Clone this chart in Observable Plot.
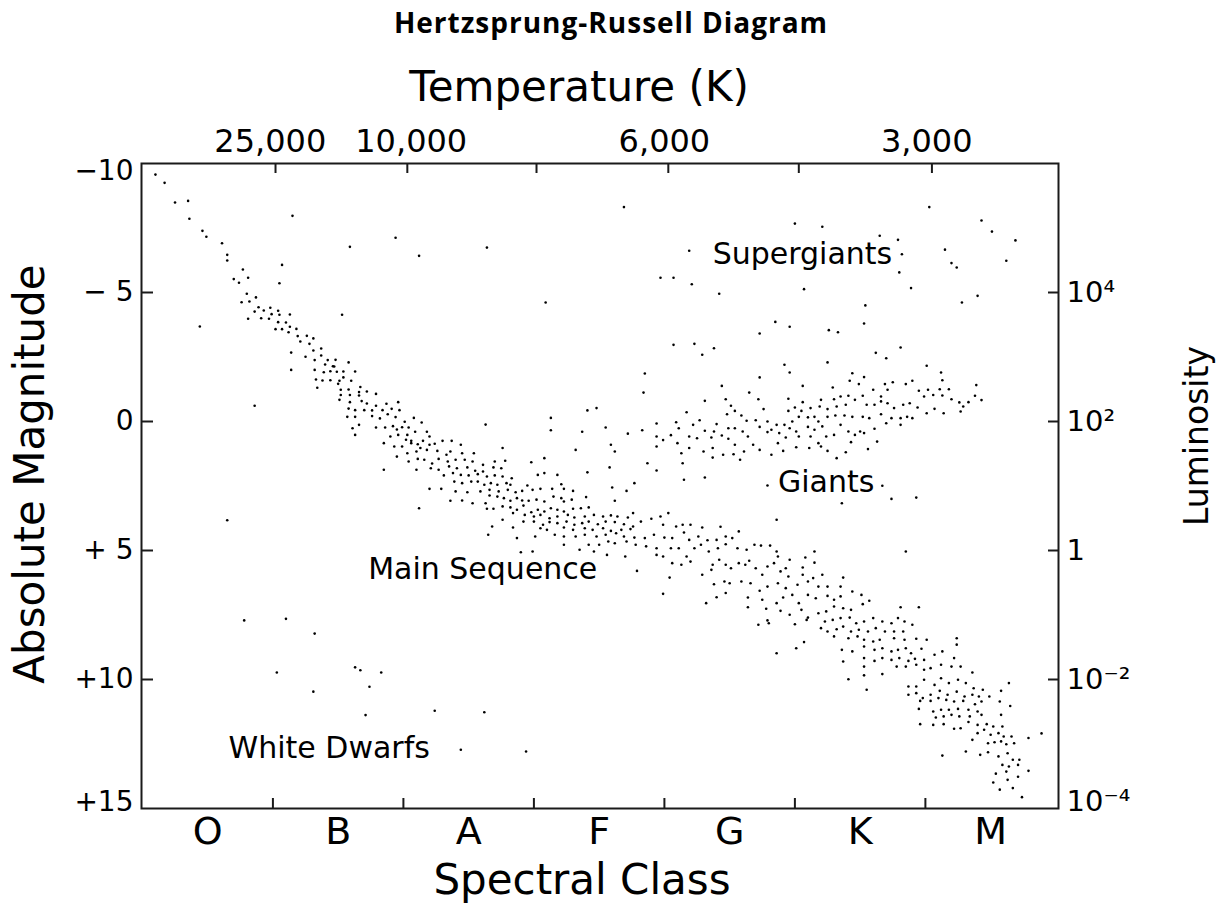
<!DOCTYPE html>
<html><head><meta charset="utf-8">
<script src="https://cdn.jsdelivr.net/npm/d3@7"></script>
<script src="https://cdn.jsdelivr.net/npm/@observablehq/plot@0.6"></script>
<style>
body{margin:0;background:#fff;}
#title{height:50px;line-height:44px;text-align:center;font-family:"Open Sans",sans-serif;font-weight:700;font-size:28px;letter-spacing:1px;color:#000;}
#chart svg{display:block;}
</style></head><body>
<div id="title">Hertzsprung-Russell Diagram</div>
<div id="chart"></div>
<script>
// Spectral class position: O=0, B=1, A=2, F=3, G=4, K=5, M=6 (fractions = subclasses)
const spectralClasses = ["O","B","A","F","G","K","M"];
const classBoundaries = [0.5,1.5,2.5,3.5,4.5,5.5];
const magnitudeTicks = [-10,-5,0,5,10,15];
const magnitudeLabels = ["−10","− 5","0","+ 5","+10","+15"];
const luminosityTicks = [-5,0,5,10,15];
const luminosityLabels = ["10⁴","10²","1","10⁻²","10⁻⁴"];
const temperatureTickPositions = [0.52,1.53,2.52,3.53,4.53,5.55];
const temperatureLabelPositions = [0.48,1.56,3.50,5.51];
const temperatureLabels = ["25,000","10,000","6,000","3,000"];

// [spectral class, absolute magnitude]
const mainSequence = [
[-0.40,-9.57],[-0.33,-9.25],[-0.25,-8.49],[-0.15,-8.55],[-0.14,-7.86],[-0.04,-7.39],[-0.01,-7.16],[0.11,-6.91],[0.15,-6.46],[0.15,-6.24],[0.27,-5.89],[0.31,-5.57],[0.20,-5.52],[0.24,-5.38],[0.30,-4.95],[0.37,-4.81],[0.26,-4.62],[0.32,-4.65],[0.39,-4.43],[0.36,-4.26],[0.43,-4.30],[0.48,-4.41],[0.54,-4.29],[0.31,-3.98],[0.41,-4.00],[0.49,-4.16],[0.47,-3.98],[0.55,-4.14],[0.63,-4.15],[0.52,-3.58],[0.57,-3.58],[0.54,-3.85],[0.60,-3.84],[0.63,-3.67],[0.62,-3.46],[0.68,-3.59],[0.69,-3.31],[0.71,-3.10],[0.76,-3.32],[0.81,-3.22],[0.78,-3.01],[0.87,-2.83],[0.81,-2.75],[0.75,-2.51],[0.87,-2.56],[0.82,-2.38],[0.92,-2.38],[0.98,-2.39],[0.90,-2.21],[0.96,-2.14],[0.89,-1.91],[0.94,-1.95],[0.99,-1.93],[1.04,-1.94],[1.08,-2.29],[1.13,-1.94],[0.82,-2.00],[0.83,-1.63],[0.88,-1.59],[0.94,-1.60],[1.01,-1.58],[1.04,-1.71],[1.10,-1.58],[1.17,-1.34],[0.84,-1.31],[1.00,-1.46],[1.08,-1.24],[1.16,-1.14],[1.02,-1.03],[1.09,-1.03],[1.01,-0.84],[1.08,-0.50],[1.13,-0.44],[1.07,-0.18],[1.13,-0.18],[1.16,0.13],[1.11,0.26],[1.13,0.52],
[0.97,-2.13],[1.02,-1.23],[1.22,-1.16],[1.29,-1.07],[1.16,-1.01],[1.09,-0.75],[1.18,-0.79],[1.22,-0.70],[1.29,-0.61],[1.37,-0.69],[1.46,-0.75],[1.20,-0.44],[1.26,-0.43],[1.34,-0.44],[1.41,-0.49],[1.47,-0.44],[1.26,-0.21],[1.32,-0.12],[1.38,-0.28],[1.44,-0.17],[1.51,0.01],[1.58,-0.14],[1.64,0.04],[1.29,0.23],[1.36,0.23],[1.42,0.18],[1.45,0.31],[1.49,0.22],[1.54,0.23],[1.59,0.40],[1.68,0.40],[1.40,0.58],[1.46,0.52],[1.53,0.52],[1.70,0.58],[1.52,0.71],[1.56,0.75],[1.65,0.75],[1.80,0.75],[1.87,0.75],
[1.35,0.84],[1.43,0.97],[1.49,0.97],[1.56,0.84],[1.61,0.88],[1.70,0.90],[1.74,0.86],[1.94,0.90],[1.45,1.36],[1.53,1.23],[1.60,1.16],[1.63,1.03],[1.68,1.10],[1.76,1.14],[1.83,1.29],[1.86,1.16],[1.95,1.23],[2.04,1.23],[1.54,1.55],[1.61,1.45],[1.66,1.48],[1.72,1.63],[1.77,1.45],[1.84,1.55],[1.90,1.48],[1.97,1.48],[2.03,1.55],[2.11,1.68],[2.20,1.55],[2.28,1.52],[2.26,1.03],[2.48,1.58],[2.58,1.42],[1.35,1.87],[1.60,1.87],[1.71,1.81],[1.77,1.87],[1.85,1.74],[1.91,1.81],[1.99,1.78],[2.05,1.91],[2.11,1.94],[2.19,1.78],[2.25,1.81],[1.81,2.09],[1.88,2.00],[1.94,2.07],[2.00,2.09],[2.07,2.04],[2.14,2.13],[2.20,2.09],[2.26,2.13],[2.33,2.20],[2.53,2.07],[2.58,2.00],[2.68,2.07],[2.91,1.97],[3.08,1.78],[1.89,2.33],[1.95,2.39],[2.02,2.33],[2.07,2.33],[2.12,2.45],[2.17,2.39],[2.22,2.45],[2.29,2.39],[2.32,2.45],[2.45,2.48],[2.71,2.43],[3.27,2.39],[1.70,2.61],[1.79,2.61],[1.90,2.71],[1.99,2.74],[2.09,2.71],[2.16,2.65],[2.23,2.71],[2.30,2.65],[2.36,2.74],[2.41,2.69],[2.49,2.65],[2.55,2.61],[2.64,2.61],[2.73,2.61],[2.80,2.69],[3.10,2.56],[3.21,2.69],[2.16,2.87],[2.22,2.91],[2.27,2.97],[2.32,3.07],[2.37,2.97],[2.41,3.06],[2.46,3.07],[2.52,3.03],[2.58,3.10],[2.65,2.91],[2.71,2.97],[2.73,3.10],[2.79,3.03],[2.90,2.93],[3.12,3.07],[1.86,3.07],[1.95,3.06],[2.03,3.17],[2.13,3.17],[1.62,3.36],[2.14,3.38],[2.19,3.38],[2.26,3.29],[2.32,3.33],[2.37,3.42],[2.42,3.26],[2.48,3.52],[2.53,3.42],[2.58,3.49],[2.63,3.36],[2.68,3.42],[2.73,3.49],[2.80,3.38],[2.86,3.36],[2.92,3.33],[2.34,3.55],[2.43,3.62],[2.50,3.68],[2.55,3.62],[2.62,3.75],[2.68,3.68],[2.76,3.62],[2.81,3.72],[2.89,3.68],[2.96,3.62],[3.03,3.68],[3.09,3.64],[3.14,3.68],[3.22,3.72],[3.26,3.55],[2.26,3.81],[2.42,3.88],[2.50,3.88],[2.57,4.00],[2.62,3.90],[2.68,3.94],[2.75,3.88],[2.81,4.00],[2.87,3.94],[2.92,3.88],[2.99,3.98],[3.05,3.88],[3.12,3.90],[3.19,3.98],[3.26,4.07],[3.32,3.88],[3.40,3.77],[3.47,3.68],[3.53,3.55],[2.18,4.07],[2.34,4.11],[2.55,4.14],[2.60,4.20],[2.73,4.11],[2.80,4.20],[2.89,4.14],[2.95,4.20],[3.03,4.14],[3.09,4.24],[3.17,4.20],[3.24,4.17],[3.49,4.00],[3.59,4.07],[2.15,4.39],[2.51,4.46],[2.66,4.39],[2.73,4.46],[2.82,4.46],[2.89,4.39],[2.98,4.46],[3.05,4.39],[3.13,4.33],[3.19,4.46],[3.27,4.50],[3.35,4.52],[3.42,4.39],[3.50,4.50],[3.56,4.52],[2.37,4.52],[2.73,4.78],[2.85,4.97],[2.92,4.78],[3.00,4.78],[3.07,4.65],[3.12,4.72],[3.21,4.65],[3.28,4.78],[3.36,4.84],[3.44,4.91],[3.55,4.91],[2.40,5.07],[2.49,5.04],[2.96,5.04],[3.06,5.17],[3.20,5.23],[3.44,5.17],[3.49,5.23],[3.56,5.49],[3.29,5.79],[3.54,6.05],[3.49,6.68],
[3.64,4.00],[3.70,4.00],[3.79,4.11],[3.93,4.08],[3.65,4.30],[3.69,4.59],[3.76,4.46],[3.83,4.60],[3.90,4.59],[3.97,4.46],[4.02,4.52],[4.07,4.26],[3.61,4.91],[3.67,5.23],[3.73,4.91],[3.78,4.78],[3.84,5.04],[3.91,4.91],[3.97,4.76],[4.06,4.91],[4.13,4.97],[4.19,4.78],[4.24,4.81],[4.31,4.81],[4.36,5.04],[4.37,5.23],[4.46,5.36],[4.58,5.27],[4.65,5.04],[4.65,5.47],[3.63,5.55],[3.70,5.43],[3.79,5.94],[3.86,5.75],[3.87,5.55],[3.92,5.36],[3.97,5.55],[4.01,5.69],[4.07,5.49],[4.12,5.55],[4.15,5.40],[4.20,5.69],[4.25,5.94],[4.29,5.62],[4.34,5.49],[4.39,5.81],[4.43,5.69],[4.45,6.01],[4.56,5.66],[4.56,5.94],[4.64,6.07],[4.71,5.94],[3.88,6.31],[3.96,6.20],[4.00,6.27],[4.09,6.20],[4.16,6.27],[4.23,6.56],[4.29,6.40],[4.37,6.27],[4.43,6.46],[4.52,6.33],[4.60,6.20],[4.68,6.40],[4.75,6.40],[4.85,6.40],[4.87,6.05],[3.90,6.81],[3.97,6.65],[4.14,6.82],[4.25,6.91],[4.36,7.04],[4.41,6.82],[4.48,6.72],[4.53,7.04],[4.60,6.72],[4.66,6.85],[4.75,6.76],[4.80,6.91],[4.85,6.78],[4.94,6.59],[5.01,6.72],[5.07,6.95],[3.82,7.04],[4.14,7.20],[4.28,7.26],[4.39,7.34],[4.46,7.49],[4.55,7.30],[4.60,7.60],[4.68,7.43],[4.74,7.36],[4.80,7.17],[4.87,7.24],[4.93,7.30],[5.02,7.08],[5.31,7.20],[5.45,7.20],[4.73,7.75],[4.79,7.69],[4.85,7.62],[4.92,7.60],[4.97,7.82],[5.03,7.75],[5.10,7.62],[5.17,7.75],[5.24,7.82],[5.29,7.62],[5.34,7.75],[5.40,7.88],[4.22,7.88],[4.29,7.71],[4.30,7.82],[4.50,7.86],[4.59,7.69],[4.70,8.01],[4.75,8.14],[4.82,8.05],[4.87,7.95],[4.93,8.14],[4.99,8.07],[5.06,8.14],[5.12,8.01],[5.19,8.14],[5.26,8.14],[5.33,8.14],[4.80,8.33],[4.91,8.40],[4.98,8.33],[5.03,8.46],[5.10,8.53],[5.15,8.46],[5.26,8.40],[5.34,8.46],[5.43,8.42],[5.51,8.46],[5.74,8.40],[4.57,8.55],[4.51,8.79],[4.36,8.98],[4.86,8.85],[4.94,8.91],[5.03,8.72],[5.11,8.85],[5.17,8.79],[5.24,8.91],[5.29,8.85],[5.35,8.79],[5.39,8.98],[5.47,8.81],[5.74,8.65],[4.87,9.30],[5.03,9.17],[5.11,9.28],[5.17,9.17],[5.24,9.24],[5.30,9.17],[5.37,9.28],[5.42,9.20],[5.49,9.24],[5.57,9.04],[5.63,8.91],[5.72,9.17],[5.03,9.50],[5.17,9.79],[5.28,9.50],[5.35,9.50],[5.43,9.43],[5.49,9.62],[5.54,9.56],[5.62,9.43],[5.70,9.50],[5.77,9.50],[5.86,9.73],[4.91,9.99],[5.03,9.84],[5.05,10.40],[5.37,10.27],[5.43,10.27],[5.49,10.01],[5.57,10.21],[5.62,9.95],[5.68,10.14],[5.75,10.01],[5.81,10.14],[5.87,10.34],[5.94,10.40],[6.08,10.44],[6.14,10.14],[5.37,10.59],[5.48,10.72],[5.54,10.59],[5.61,10.44],[5.67,10.59],[5.74,10.47],[5.80,10.66],[5.86,10.59],[5.91,10.66],[5.99,10.66],[5.43,10.53],
[5.46,10.83],[5.54,10.83],[5.60,10.72],[5.66,10.79],[5.72,10.85],[5.79,10.83],[5.88,10.96],[5.93,10.85],[6.07,10.85],[6.15,11.03],[5.45,11.14],[5.56,11.24],[5.62,11.17],[5.68,11.17],[5.75,11.14],[5.83,11.17],[5.90,11.24],[5.58,11.47],[5.64,11.43],[5.70,11.37],[5.76,11.43],[5.84,11.43],[5.93,11.37],[6.08,11.37],[5.46,11.73],[5.56,11.76],[5.64,11.73],[5.72,11.91],[5.77,11.89],[5.83,11.65],[5.90,11.76],[5.97,11.73],[6.02,11.82],[6.09,11.82],[5.95,11.95],[5.90,12.08],[6.00,12.14],[6.06,12.08],[6.10,12.21],[6.16,12.21],[6.29,12.27],[6.39,12.09],[5.86,12.34],[5.98,12.47],[6.03,12.43],[6.08,12.40],[6.12,12.51],[6.18,12.47],[5.63,12.95],[5.81,12.79],[5.92,12.92],[5.98,12.82],[6.06,12.98],[6.13,12.86],[6.17,13.11],[6.22,13.11],[6.09,13.31],[6.14,13.37],[6.21,13.31],[6.04,13.65],[6.12,13.57],[6.21,13.77],[6.29,13.54],[6.02,13.99],[6.13,13.89],[6.07,14.27],[6.17,14.21],[6.24,14.56]
];

const giants = [
[3.81,-0.80],[3.97,-0.86],[4.01,-0.61],[4.22,-0.86],[4.45,-0.88],[4.56,-0.75],[4.70,-0.84],[4.80,-0.86],[4.85,-0.97],[4.91,-1.00],[4.96,-0.84],[5.02,-1.00],[5.10,-1.23],[5.16,-0.97],[5.19,-1.45],[5.25,-1.52],[5.21,-1.23],[5.35,-1.45],[5.40,-1.58],[5.45,-1.19],[5.52,-1.23],[5.61,-1.25],[5.68,-1.25],[5.49,-0.97],[5.56,-1.03],[5.63,-1.01],[5.70,-0.86],[5.76,-0.74],[5.88,-1.00],[5.93,-0.83],[5.83,-0.75],[5.79,-0.58],[5.77,-0.39],[5.64,-0.32],[5.57,-0.49],[5.51,-0.32],[5.44,-0.54],[5.38,-0.71],[5.33,-0.65],[5.26,-0.52],[5.21,-0.71],[5.16,-0.78],[5.11,-0.65],[5.05,-0.65],[4.89,-0.65],[4.82,-0.58],[4.75,-0.48],[4.69,-0.58],[4.62,-0.52],[4.55,-0.41],[4.50,-0.54],[4.45,-0.41],[4.26,-0.48],[4.09,-0.23],[4.04,-0.41],[3.98,-0.28],[3.67,-0.36],[3.77,-0.05],[3.90,0.10],[3.99,0.26],[4.04,0.26],[4.13,-0.03],[4.20,-0.05],[4.29,0.00],[4.36,0.13],[4.42,0.13],[4.48,0.00],[4.53,-0.18],[4.60,-0.16],[4.65,-0.18],[4.68,0.00],[4.75,-0.18],[4.81,-0.23],[4.88,-0.23],[4.94,-0.18],[5.02,-0.18],[5.07,-0.13],[5.16,-0.28],[5.24,-0.13],[5.31,-0.13],[5.36,-0.18],[5.40,-0.13],[3.72,0.13],[3.61,0.26],[3.81,0.36],[3.88,0.39],[4.10,0.39],[4.23,0.21],[4.32,0.32],[4.38,0.45],[4.46,0.26],[4.51,0.39],[4.60,0.21],[4.65,0.32],[4.71,0.19],[4.85,0.13],[4.91,0.39],[5.00,0.39],[5.11,0.28],[5.20,0.07],[5.31,0.13],[3.69,0.58],[3.75,0.65],[3.86,0.62],[3.94,0.54],[3.99,0.67],[4.14,0.58],[4.29,0.41],[4.43,0.62],[4.53,0.58],[4.62,0.58],[4.74,0.58],[4.80,0.52],[4.96,0.52],[5.03,0.45],
[3.94,-1.38],[4.56,-1.38],[4.79,-1.32],[4.92,-1.58],[4.99,-1.45],[4.15,-1.12],[5.89,-1.41],[5.63,-1.60],[4.23,-1.71],[4.46,-1.90],[4.94,-1.87],[5.03,-1.72],[5.62,-1.90],[4.42,-2.20],[4.75,-2.29],[5.51,-2.16],[5.31,-2.87],[5.12,-2.66],[5.20,-2.45],[3.73,-3.01],[3.79,-2.59],[3.88,-2.84],
[3.60,0.84],[3.69,1.03],[3.63,1.23],[3.64,1.62],[3.80,1.16],[3.87,1.03],[3.87,1.40],[3.95,1.29],[4.03,1.27],[4.08,1.48],[4.04,0.90],[4.11,1.16],[4.18,0.90],[4.23,1.10],[4.32,1.29],[4.37,0.84],[4.41,1.14],[4.51,1.00],[4.61,1.03],[4.68,0.84],[4.70,0.97],[4.75,1.14],[4.82,1.42],[4.89,1.19],[5.06,1.07],[5.13,0.78],[4.93,0.80],[3.65,2.26],[3.81,2.17],[4.29,2.48],[4.86,3.17],[5.17,2.49],[5.24,3.00],[5.43,2.95],[5.35,5.04],[4.36,3.81]
];

const supergiants = [
[0.65,-7.97],[1.09,-6.77],[0.57,-6.07],[0.55,-5.36],[1.44,-7.12],[1.62,-6.42],[2.14,-6.74],[3.19,-8.31],[3.47,-5.57],[3.57,-5.57],
[5.53,-8.31],[5.93,-7.79],[6.01,-7.36],[6.19,-7.02],[4.50,-7.67],[4.71,-7.55],[5.15,-7.20],[5.29,-7.04],[5.32,-6.48],[5.65,-6.66],[5.70,-6.14],[5.74,-5.97],[6.12,-6.23],[3.69,-6.62],[3.71,-5.32],[3.92,-4.95],[4.57,-5.13],[5.30,-5.78],[5.39,-5.17],[5.90,-4.87],[5.78,-4.61],[5.04,-4.50],[5.03,-3.80],[4.35,-3.86],[4.46,-3.67],[4.23,-3.41],[4.76,-3.54],[4.83,-3.46],[2.59,-4.61],[3.57,-2.97]
];

const whiteDwarfs = [
[1.13,9.53],[1.17,9.64],[1.33,9.73],[1.24,10.28],[0.28,7.71],[0.60,7.65],[0.82,8.22],[0.53,9.73],[0.81,10.47],[1.21,11.38],[1.74,11.21],[2.12,11.27],[1.94,12.72],[2.44,12.79]
];

const otherStars = [
[0.15,3.83],[0.64,-2.67],[0.64,-2.00],[0.36,-0.61],[-0.06,-3.68],[1.03,-4.14],
[2.63,-0.14],[2.63,0.34],[2.87,0.40],[3.05,0.23],[3.22,0.47],[3.33,0.34],[3.44,0.08],[3.59,0.03],[3.44,0.58],[3.49,0.72],[3.55,0.53],[2.13,0.12],[2.91,-0.43],[2.98,-0.52],[3.35,-1.86],[3.34,-1.12],
[2.82,1.10],[3.09,0.90],[3.12,1.16],[3.44,0.97],[3.37,1.62],[3.44,1.90]
];

const regionNames = ["Supergiants","Giants","Main Sequence","White Dwarfs"];
const regionClass = [3.87,4.37,1.23,0.16];
const regionMag = [-6.12,2.75,6.12,13.06];

const stars = [...mainSequence, ...giants, ...supergiants, ...whiteDwarfs, ...otherStars].map(([c, m]) => ({c, m}));
const regions = regionNames.map((name, i) => ({name, c: regionClass[i], m: regionMag[i]}));

const W = 1222, H = 865, mL = 141, mR = 164, mT = 113, mB = 107;
const frameH = H - mT - mB, frameW = W - mL - mR;
const ink = "#1a1a1a";
const magLabel = d => magnitudeLabels[magnitudeTicks.indexOf(d)];
const lumLabel = d => luminosityLabels[luminosityTicks.indexOf(d)];

const chart = Plot.plot({
  width: W, height: H,
  marginLeft: mL, marginRight: mR, marginTop: mT, marginBottom: mB,
  style: {fontFamily: "DejaVu Sans", background: "white", color: "black"},
  x: {domain: [-0.507, 6.52]},
  y: {domain: [-10, 15], reverse: true},
  marks: [
    Plot.frame({stroke: ink, strokeWidth: 2}),
    Plot.tickX(classBoundaries, {x: d => d, insetTop: frameH - 10, stroke: ink, strokeWidth: 2}),
    Plot.tickX(temperatureTickPositions, {x: d => d, insetBottom: frameH - 10, stroke: ink, strokeWidth: 2}),
    Plot.tickY(magnitudeTicks.slice(1, 5), {y: d => d, insetRight: frameW - 12, stroke: ink, strokeWidth: 2}),
    Plot.tickY(luminosityTicks.slice(0, 4), {y: d => d, insetLeft: frameW - 10, stroke: ink, strokeWidth: 2}),
    Plot.axisX(d3.range(7), {anchor: "bottom", tickSize: 0, tickPadding: 9, fontSize: 38, label: null,
      tickFormat: d => spectralClasses[d]}),
    Plot.axisX(temperatureLabelPositions, {anchor: "top", tickSize: 0, tickPadding: 12, fontSize: 32, label: null,
      tickFormat: d => temperatureLabels[temperatureLabelPositions.indexOf(d)]}),
    Plot.axisY(magnitudeTicks.slice(1, 5), {anchor: "left", tickSize: 0, tickPadding: 8, fontSize: 28, label: null, tickFormat: magLabel}),
    Plot.axisY([-10], {anchor: "left", tickSize: 0, tickPadding: 8, fontSize: 28, label: null, dy: 8, tickFormat: magLabel}),
    Plot.axisY([15], {anchor: "left", tickSize: 0, tickPadding: 8, fontSize: 28, label: null, dy: -6, tickFormat: magLabel}),
    Plot.axisY(luminosityTicks.slice(0, 4), {anchor: "right", tickSize: 0, tickPadding: 8, fontSize: 29, label: null, tickFormat: lumLabel}),
    Plot.axisY([15], {anchor: "right", tickSize: 0, tickPadding: 8, fontSize: 29, label: null, dy: -7, tickFormat: lumLabel}),
    Plot.text(["Temperature (K)"], {text: d => d, frameAnchor: "top", textAnchor: "middle", dx: -21, dy: -63, lineAnchor: "bottom", fontSize: 42}),
    Plot.text(["Spectral Class"], {text: d => d, frameAnchor: "bottom", textAnchor: "middle", dx: -18, dy: 85, lineAnchor: "bottom", fontSize: 42}),
    Plot.text(["Absolute Magnitude"], {text: d => d, frameAnchor: "left", textAnchor: "middle", rotate: -90, dx: -98, dy: -12, lineAnchor: "bottom", fontSize: 42}),
    Plot.text(["Luminosity"], {text: d => d, frameAnchor: "right", textAnchor: "middle", rotate: -90, dx: 149, dy: -50, lineAnchor: "bottom", fontSize: 33}),
    Plot.text(regions, {x: "c", y: "m", text: "name", textAnchor: "start", lineAnchor: "bottom", fontSize: 30}),
    Plot.dot(stars, {x: "c", y: "m", r: 1.3, fill: "#000"})
  ]
});
document.getElementById("chart").appendChild(chart);
</script>
</body></html>
